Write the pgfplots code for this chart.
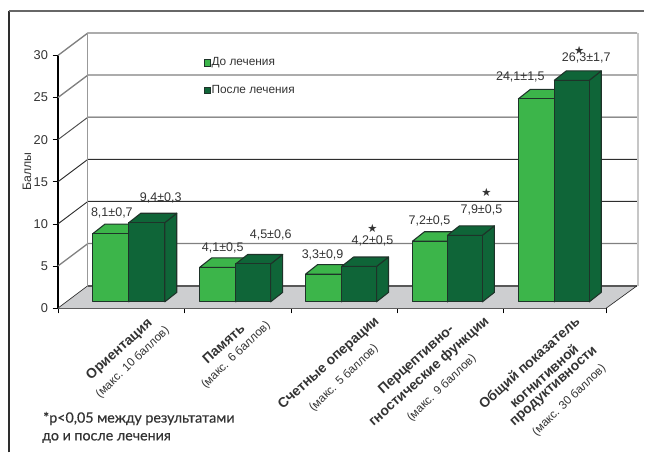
\documentclass[border=0pt]{standalone}
\usepackage{fontspec}
\setmainfont{Liberation Sans}
\newfontfamily\symfont{DejaVu Sans}
\newfontfamily\notefont[FakeBold=0.5]{Lato}
\usepackage{pgfplots}
\pgfplotsset{compat=1.18}
\definecolor{lightbar}{HTML}{3CB54A}
\definecolor{darkbar}{HTML}{0F6538}
\definecolor{baredge}{HTML}{1E3329}
\definecolor{floorgray}{HTML}{CDCED0}
\definecolor{gridgray}{HTML}{808080}
\definecolor{griddark}{HTML}{2E2E2E}
\definecolor{textgray}{HTML}{333333}

% bar depth and wall offset of the oblique projection, in axis units
\def\barbase{0.75}
\def\bardx{12}
\def\bardy{1.12}
\def\walldx{30}
\def\walldy{2.67}

% left, right, value, colour: front, top and side faces of one bar
\newcommand{\solidbar}[4]{%
  \pgfmathsetmacro\xa{#1+\bardx}%
  \pgfmathsetmacro\xb{#2+\bardx}%
  \pgfmathsetmacro\yt{#3+\barbase}%
  \pgfmathsetmacro\ytt{#3+\barbase+\bardy}%
  \pgfmathsetmacro\ybb{\barbase+\bardy}%
  \addplot[fill=#4,draw=baredge,line width=0.8pt,line join=round] coordinates {(#2,\barbase)(\xb,\ybb)(\xb,\ytt)(#2,\yt)} -- cycle;
  \addplot[fill=#4,draw=baredge,line width=0.8pt,line join=round] coordinates {(#1,\yt)(\xa,\ytt)(\xb,\ytt)(#2,\yt)} -- cycle;
  \addplot[fill=#4,draw=baredge,line width=0.8pt,line join=round] coordinates {(#1,\barbase)(#1,\yt)(#2,\yt)(#2,\barbase)} -- cycle;
}
% one gridline on the wall with its diagonal on the side
\newcommand{\wallline}[3]{%
  \pgfmathsetmacro\yw{#1+\walldy}%
  \addplot[color=#2,line width=#3] coordinates {(58,#1)(88,\yw)(638,\yw)};
}
% text centred at a position given from the top-left of the sheet
\newcommand{\lbl}[3]{\node[inner sep=0pt,text=textgray,font=\fontsize{9.4}{10}\selectfont] at (axis cs:#1,{(308.5-#2)/8.433}) {#3};}
\newcommand{\sigstar}[2]{\node[inner sep=0pt,text=textgray,font=\symfont\fontsize{8.5}{10}\selectfont] at (axis cs:#1,{(308.5-#2)/8.433}) {★};}
% rotated category line, placed by its upper right end
\newcommand{\catb}[3]{\node[inner sep=0pt,anchor=east,rotate=42,text=textgray,font=\bfseries\fontsize{10.4}{11}\selectfont] at (axis cs:#1,{(308.5-#2)/8.433}) {#3};}
\newcommand{\catr}[3]{\node[inner sep=0pt,anchor=east,rotate=44,text=textgray,font=\fontsize{8.8}{10}\selectfont] at (axis cs:#1,{(308.5-#2)/8.433}) {#3};}

\begin{document}
\begin{tikzpicture}
\begin{axis}[
  x=0.75pt, y=6.325pt,
  xmin=58, xmax=607, ymin=0, ymax=30,
  clip=false,
  axis x line*=bottom, axis y line*=left,
  x axis line style={-,draw=griddark!85,line width=1.4pt},
  y axis line style={-,draw=black,line width=0.9pt},
  xtick={58,185,291.5,398,504,607},
  xticklabels={},
  ytick={0,5,10,15,20,25,30},
  tick style={draw=black,line width=0.6pt},
  tick align=outside,
  major tick length=4pt,
  every tick label/.append style={font=\fontsize{9.6}{10}\selectfont,text=textgray},
  /pgf/number format/assume math mode=true,
  ylabel={Баллы},
  every axis y label/.style={at={(axis cs:27,16.2)},rotate=90,anchor=center,font=\fontsize{9.2}{10}\selectfont,text=textgray},
  legend cell align=left,
  legend style={at={(axis description cs:0.2655,0.998)},anchor=north west,draw=none,fill=none,
    font=\fontsize{8.9}{10}\selectfont,text=textgray,row sep=11pt,inner sep=0pt,
    nodes={inner sep=1pt}},
]
\addlegendimage{only marks,mark=square*,mark size=2.4pt,mark options={fill=lightbar,draw=baredge,line width=0.4pt}}
\addlegendentry{До лечения}
\addlegendimage{only marks,mark=square*,mark size=2.4pt,mark options={fill=darkbar,draw=baredge,line width=0.4pt}}
\addlegendentry{После лечения}

% sheet size and frame
\path (axis cs:0,{(308.5-453)/8.433}) rectangle (axis cs:645,{308.5/8.433});
\draw[griddark,line width=1.1pt] (axis cs:9,{(308.5-453)/8.433}) -- (axis cs:9,{(308.5-11)/8.433});
\draw[gridgray!80!black,line width=1.2pt] (axis cs:8.6,{(308.5-11)/8.433}) -- (axis cs:645,{(308.5-11)/8.433});

% floor, then walls
\addplot[fill=floorgray,draw=none,forget plot] coordinates {(58,0)(88,2.67)(638,2.67)(607,0)} -- cycle;
\addplot[color=griddark!80,line width=1.3pt] coordinates {(88,2.67)(638,2.67)};
\addplot[color=griddark,line width=0.5pt] coordinates {(58,0)(88,2.67)};
\addplot[color=griddark,line width=0.5pt] coordinates {(607,0)(638,2.67)};
\wallline{5}{gridgray}{1.0pt}
\wallline{10}{griddark}{0.7pt}
\wallline{15}{griddark}{0.7pt}
\wallline{20}{griddark!85}{0.7pt}
\wallline{25}{gridgray}{1.0pt}
\wallline{30}{gridgray}{1.0pt}
\addplot[color=gridgray!80,line width=0.7pt] coordinates {(88,2.67)(88,32.67)};
\addplot[color=gridgray!45,line width=1.6pt] coordinates {(638.6,2.67)(638.6,32.67)};

% bars: before and after treatment
\solidbar{93}{129}{8.1}{lightbar}
\solidbar{129}{165}{9.4}{darkbar}
\solidbar{200}{236}{4.1}{lightbar}
\solidbar{236}{271}{4.5}{darkbar}
\solidbar{306}{342}{3.3}{lightbar}
\solidbar{342}{377}{4.2}{darkbar}
\solidbar{413}{448}{7.2}{lightbar}
\solidbar{448}{483}{7.9}{darkbar}
\solidbar{519}{555}{24.1}{lightbar}
\solidbar{555}{590}{26.3}{darkbar}

% value labels
\lbl{112}{213}{8,1±0,7}
\lbl{161}{198}{9,4±0,3}
\lbl{223}{248}{4,1±0,5}
\lbl{271}{235}{4,5±0,6}
\lbl{323}{255}{3,3±0,9}
\lbl{373}{241}{4,2±0,5}
\lbl{430}{221}{7,2±0,5}
\lbl{482}{210}{7,9±0,5}
\lbl{521}{77}{24,1±1,5}
\lbl{587}{58}{26,3±1,7}
\sigstar{373}{229}
\sigstar{487}{193}
\sigstar{580}{50}

% category names
\catb{151}{322}{Ориентация}
\catr{168}{329}{(макс. 10 баллов)}
\catb{243}{327}{Память}
\catr{269}{324}{(макс. 6 баллов)}
\catb{378}{320}{Счетные операции}
\catr{377}{347}{(макс. 5 баллов)}
\catb{453}{328}{Перцептивно-}
\catb{488}{320}{гностические функции}
\catr{475}{357}{(макс. 9 баллов)}
\catb{579}{320}{Общий показатель}
\catb{577}{347}{когнитивной}
\catb{597}{350}{продуктивности}
\catr{605}{367}{(макс. 30 баллов)}

% footnote
\node[anchor=west,inner sep=0pt,text=textgray,font=\notefont\fontsize{10.7}{12}\selectfont] at (axis cs:43,{(308.5-419)/8.433}) {*p<0,05 между результатами};
\node[anchor=west,inner sep=0pt,text=textgray,font=\notefont\fontsize{10.7}{12}\selectfont] at (axis cs:42,{(308.5-438.5)/8.433}) {до и после лечения};
\end{axis}
\end{tikzpicture}
\end{document}
